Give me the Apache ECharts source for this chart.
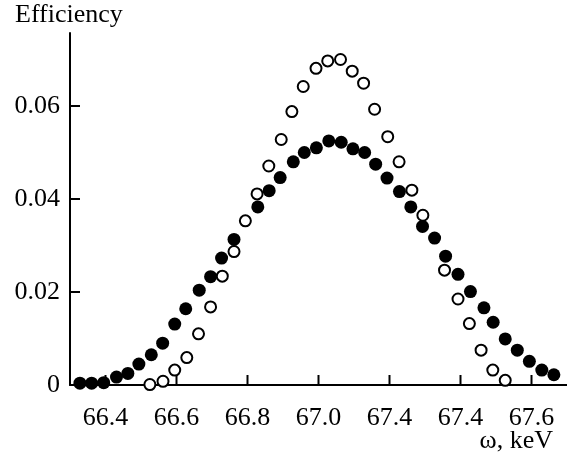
<!DOCTYPE html>
<html>
<head>
<meta charset="utf-8">
<script src="https://cdn.jsdelivr.net/npm/echarts@6/dist/echarts.min.js"></script>
<style>
  html, body { margin: 0; padding: 0; background: #fff; }
  #chart { width: 567px; height: 453px; }
</style>
</head>
<body>
<div id="chart"></div>
<script>
// filled circles
var filledX = [66.328, 66.361, 66.395, 66.431, 66.463, 66.494, 66.529, 66.561, 66.595, 66.626,
  66.664, 66.696, 66.727, 66.762, 66.829, 66.861, 66.892, 66.929, 66.960, 66.994,
  67.029, 67.064, 67.097, 67.130, 67.161, 67.193, 67.228, 67.260, 67.293, 67.327,
  67.358, 67.393, 67.428, 67.466, 67.492, 67.526, 67.560, 67.594, 67.629, 67.663];
var filledY = [0.0004, 0.0004, 0.0005, 0.0017, 0.0025, 0.0045, 0.0065, 0.0090, 0.0131, 0.0164,
  0.0204, 0.0233, 0.0273, 0.0313, 0.0383, 0.0418, 0.0446, 0.0480, 0.0500, 0.0510,
  0.0525, 0.0522, 0.0508, 0.0500, 0.0475, 0.0445, 0.0416, 0.0383, 0.0341, 0.0316,
  0.0277, 0.0238, 0.0201, 0.0166, 0.0135, 0.0099, 0.0075, 0.0051, 0.0032, 0.0022];

// open circles
var openX = [66.525, 66.562, 66.595, 66.629, 66.662, 66.696, 66.729, 66.762, 66.794, 66.827,
  66.860, 66.895, 66.925, 66.957, 66.993, 67.026, 67.062, 67.095, 67.127, 67.158,
  67.195, 67.227, 67.263, 67.294, 67.355, 67.393, 67.425, 67.458, 67.491, 67.526];
var openY = [0.0001, 0.0008, 0.0032, 0.0059, 0.0110, 0.0168, 0.0234, 0.0287, 0.0353, 0.0411,
  0.0471, 0.0528, 0.0588, 0.0642, 0.0681, 0.0697, 0.0700, 0.0675, 0.0649, 0.0593,
  0.0534, 0.0480, 0.0419, 0.0365, 0.0247, 0.0185, 0.0132, 0.0075, 0.0032, 0.0010];

var xTicks = [66.4, 66.6, 66.8, 67.0, 67.2, 67.4, 67.6];
var xTickLabels = ["66.4", "66.6", "66.8", "67.0", "67.4", "67.4", "67.6"];
var yTicks = [0, 0.02, 0.04, 0.06];
var yTickLabels = ["0", "0.02", "0.04", "0.06"];

function pairs(xs, ys) {
  return xs.map(function (x, i) { return [x, ys[i]]; });
}

var font = "'Liberation Serif', 'Times New Roman', serif";
var chart = echarts.init(document.getElementById("chart"));

var option = {
  animation: false,
  grid: { left: 70, top: 33, width: 500, height: 352 },
  xAxis: {
    type: "value",
    min: 66.3,
    max: 67.7,
    splitLine: { show: false },
    axisLine: { show: true, onZero: false, lineStyle: { color: "#000", width: 2 } },
    axisTick: { show: false },
    axisLabel: {
      customValues: xTicks,
      margin: 20,
      color: "#000",
      fontFamily: font,
      fontSize: 26,
      formatter: function (v) {
        var i = xTicks.findIndex(function (t) { return Math.abs(t - v) < 1e-6; });
        return i >= 0 ? xTickLabels[i] : "";
      }
    }
  },
  yAxis: {
    type: "value",
    min: 0,
    max: 0.0757,
    splitLine: { show: false },
    axisLine: { show: true, lineStyle: { color: "#000", width: 2 } },
    axisTick: { show: true, inside: true, length: 10, customValues: yTicks,
      lineStyle: { color: "#000", width: 2 } },
    axisLabel: {
      customValues: yTicks,
      margin: 10,
      color: "#000",
      fontFamily: font,
      fontSize: 26,
      formatter: function (v) {
        var i = yTicks.findIndex(function (t) { return Math.abs(t - v) < 1e-9; });
        return i >= 0 ? yTickLabels[i] : "";
      }
    }
  },
  graphic: [
    { type: "text", left: 15, top: 2,
      style: { text: "Efficiency", font: "26px " + font, fill: "#000" } },
    { type: "text", right: 14, top: 428,
      style: { text: "ω, keV", font: "26px " + font, fill: "#000" } }
  ],
  series: [
    {
      // inward x-axis ticks, placed through the axis scale
      name: "xticks",
      type: "custom",
      silent: true,
      data: xTicks.map(function (t) { return [t, 0]; }),
      renderItem: function (params, api) {
        var p = api.coord([api.value(0), 0]);
        return {
          type: "line",
          shape: { x1: p[0], y1: p[1], x2: p[0], y2: p[1] - 10 },
          style: { stroke: "#000", lineWidth: 2 }
        };
      },
      z: 1
    },
    {
      name: "filled",
      type: "scatter",
      symbol: "circle",
      symbolSize: 13,
      data: pairs(filledX, filledY),
      itemStyle: { color: "#000", opacity: 1 },
      z: 2
    },
    {
      name: "open",
      type: "scatter",
      symbol: "circle",
      symbolSize: 11,
      data: pairs(openX, openY),
      itemStyle: { color: "#fff", borderColor: "#000", borderWidth: 2, opacity: 1 },
      z: 3
    }
  ]
};
chart.setOption(option);
</script>
</body>
</html>
